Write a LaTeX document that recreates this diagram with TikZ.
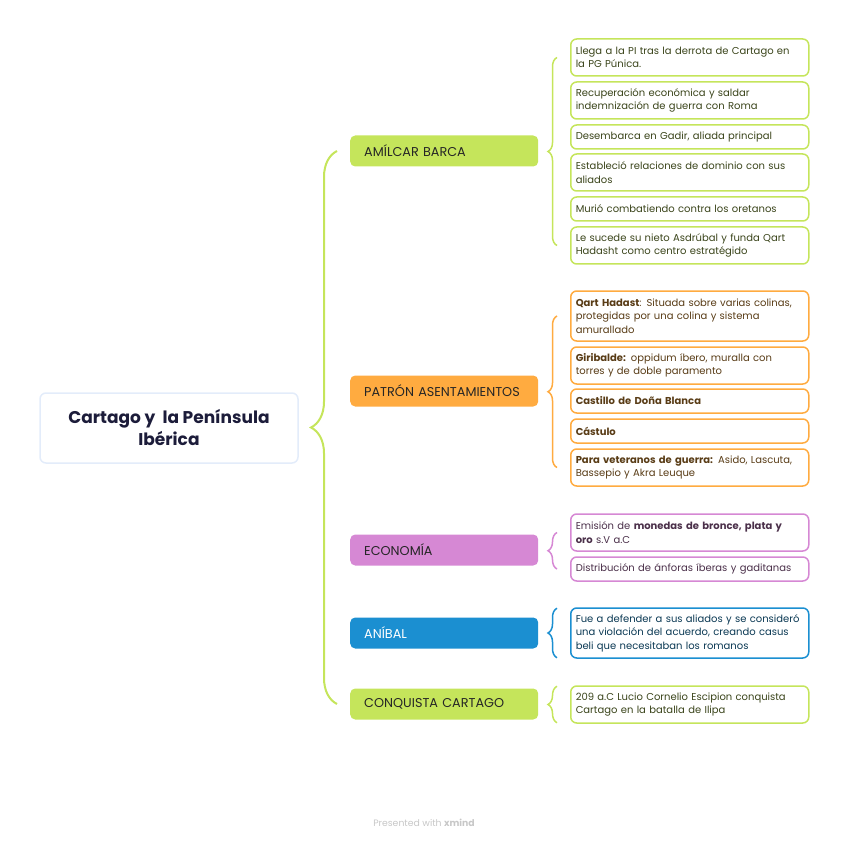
\documentclass[tikz,border=0pt]{standalone}
\usepackage{fontspec}
\setmainfont{Poppins}
\usetikzlibrary{decorations.pathreplacing,calc}
\definecolor{limeg}{HTML}{C5E55B}
\definecolor{orng}{HTML}{FFAB40}
\definecolor{purp}{HTML}{D688D4}
\definecolor{blu}{HTML}{1B8FD1}
\definecolor{rootline}{HTML}{E3ECFA}
\definecolor{roottext}{HTML}{1C1C3A}
\tikzset{
  root/.style={draw=rootline, fill=white, line width=1.5pt, rounded corners=6pt, minimum width=258, minimum height=70, align=center, text=roottext, font=\fontsize{17}{22}\selectfont\bfseries},
  branch/.style={fill=#1, rounded corners=5pt, minimum width=188, minimum height=31, text width=160, inner xsep=14, align=left, font=\fontsize{12.8}{15}\selectfont, text=black!85},
  leaf/.style={draw=#1, fill=white, line width=1.5pt, rounded corners=6pt, text width=228, inner xsep=5, align=left, font=\fontsize{10}{13.5}\selectfont},
  mainbrace/.style={draw=limeg, line width=2pt, decorate, decoration={brace, amplitude=26}},
  subbrace/.style={draw=#1, line width=1.5pt, decorate, decoration={brace, amplitude=9}},
}

\begin{document}
\begin{tikzpicture}[x=1pt, y=-1pt]
\useasboundingbox (0,0) rectangle (848,842);
\node[root] (root) at (169,428) {Cartago y \ la Península\\Ibérica};
\node[branch=limeg, anchor=west] (amilcar) at (350,151) {AMÍLCAR BARCA};
\node[branch=orng, anchor=west] (patron) at (350,391) {PATRÓN ASENTAMIENTOS};
\node[branch=purp, anchor=west] (economia) at (350,550) {ECONOMÍA};
\node[branch=blu, anchor=west, text=white] (anibal) at (350,633) {ANÍBAL};
\node[branch=limeg, anchor=west] (conquista) at (350,704) {CONQUISTA CARTAGO};
\draw[mainbrace] ($(conquista.west)+(-13,0)$) -- ($(amilcar.west)+(-13,0)$);
\node[leaf=limeg, text=limeg!30!black, anchor=west, minimum height=37] (a1) at (570,57.5) {Llega a la PI tras la derrota de Cartago en\\la PG Púnica.};
\node[leaf=limeg, text=limeg!30!black, anchor=west, minimum height=37] (a2) at (570,100.5) {Recuperación económica y saldar\\indemnización de guerra con Roma};
\node[leaf=limeg, text=limeg!30!black, anchor=west, minimum height=24] (a3) at (570,137) {Desembarca en Gadir, aliada principal};
\node[leaf=limeg, text=limeg!30!black, anchor=west, minimum height=37] (a4) at (570,172.5) {Estableció relaciones de dominio con sus\\aliados};
\node[leaf=limeg, text=limeg!30!black, anchor=west, minimum height=24] (a5) at (570,209) {Murió combatiendo contra los oretanos};
\node[leaf=limeg, text=limeg!30!black, anchor=west, minimum height=37] (a6) at (570,245.5) {Le sucede su nieto Asdrúbal y funda Qart\\Hadasht como centro estratégido};
\draw[subbrace=limeg] ($(a6.west)+(-13,0)$) -- ($(a1.west)+(-13,0)$);
\node[leaf=orng, text=orng!35!black, anchor=west, minimum height=50] (p1) at (570,316) {\textbf{Qart Hadast}: Situada sobre varias colinas,\\protegidas por una colina y sistema\\amurallado};
\node[leaf=orng, text=orng!35!black, anchor=west, minimum height=37] (p2) at (570,365.5) {\textbf{Giribalde:} oppidum íbero, muralla con\\torres y de doble paramento};
\node[leaf=orng, text=orng!35!black, anchor=west, minimum height=24] (p3) at (570,401) {\textbf{Castillo de Doña Blanca}};
\node[leaf=orng, text=orng!35!black, anchor=west, minimum height=24] (p4) at (570,431) {\textbf{Cástulo}};
\node[leaf=orng, text=orng!35!black, anchor=west, minimum height=37] (p5) at (570,467.5) {\textbf{Para veteranos de guerra:} Asido, Lascuta,\\Bassepio y Akra Leuque};
\draw[subbrace=orng] ($(p5.west)+(-13,0)$) -- ($(p1.west)+(-13,0)$);
\node[leaf=purp, text=purp!35!black, anchor=west, minimum height=37] (e1) at (570,532.5) {Emisión de \textbf{monedas de bronce, plata y}\\\textbf{oro} s.V a.C};
\node[leaf=purp, text=purp!35!black, anchor=west, minimum height=24] (e2) at (570,569) {Distribución de ánforas íberas y gaditanas};
\draw[subbrace=purp] ($(e2.west)+(-13,0)$) -- ($(e1.west)+(-13,0)$);
\node[leaf=blu, text=blu!40!black, anchor=west, minimum height=50] (n1) at (570,633) {Fue a defender a sus aliados y se consideró\\una violación del acuerdo, creando casus\\beli que necesitaban los romanos};
\draw[subbrace=blu] ($(n1.south west)+(-13,-1)$) -- ($(n1.north west)+(-13,1)$);
\node[leaf=limeg, text=limeg!30!black, anchor=west, minimum height=37] (c1) at (570,704.5) {209 a.C Lucio Cornelio Escipion conquista\\Cartago en la batalla de Ilipa};
\draw[subbrace=limeg] ($(c1.south west)+(-13,-1)$) -- ($(c1.north west)+(-13,1)$);
\node[text=black!22, font=\fontsize{9.3}{11}\selectfont] (footer) at (424,823) {Presented with \textbf{xmind}};
\end{tikzpicture}
\end{document}
